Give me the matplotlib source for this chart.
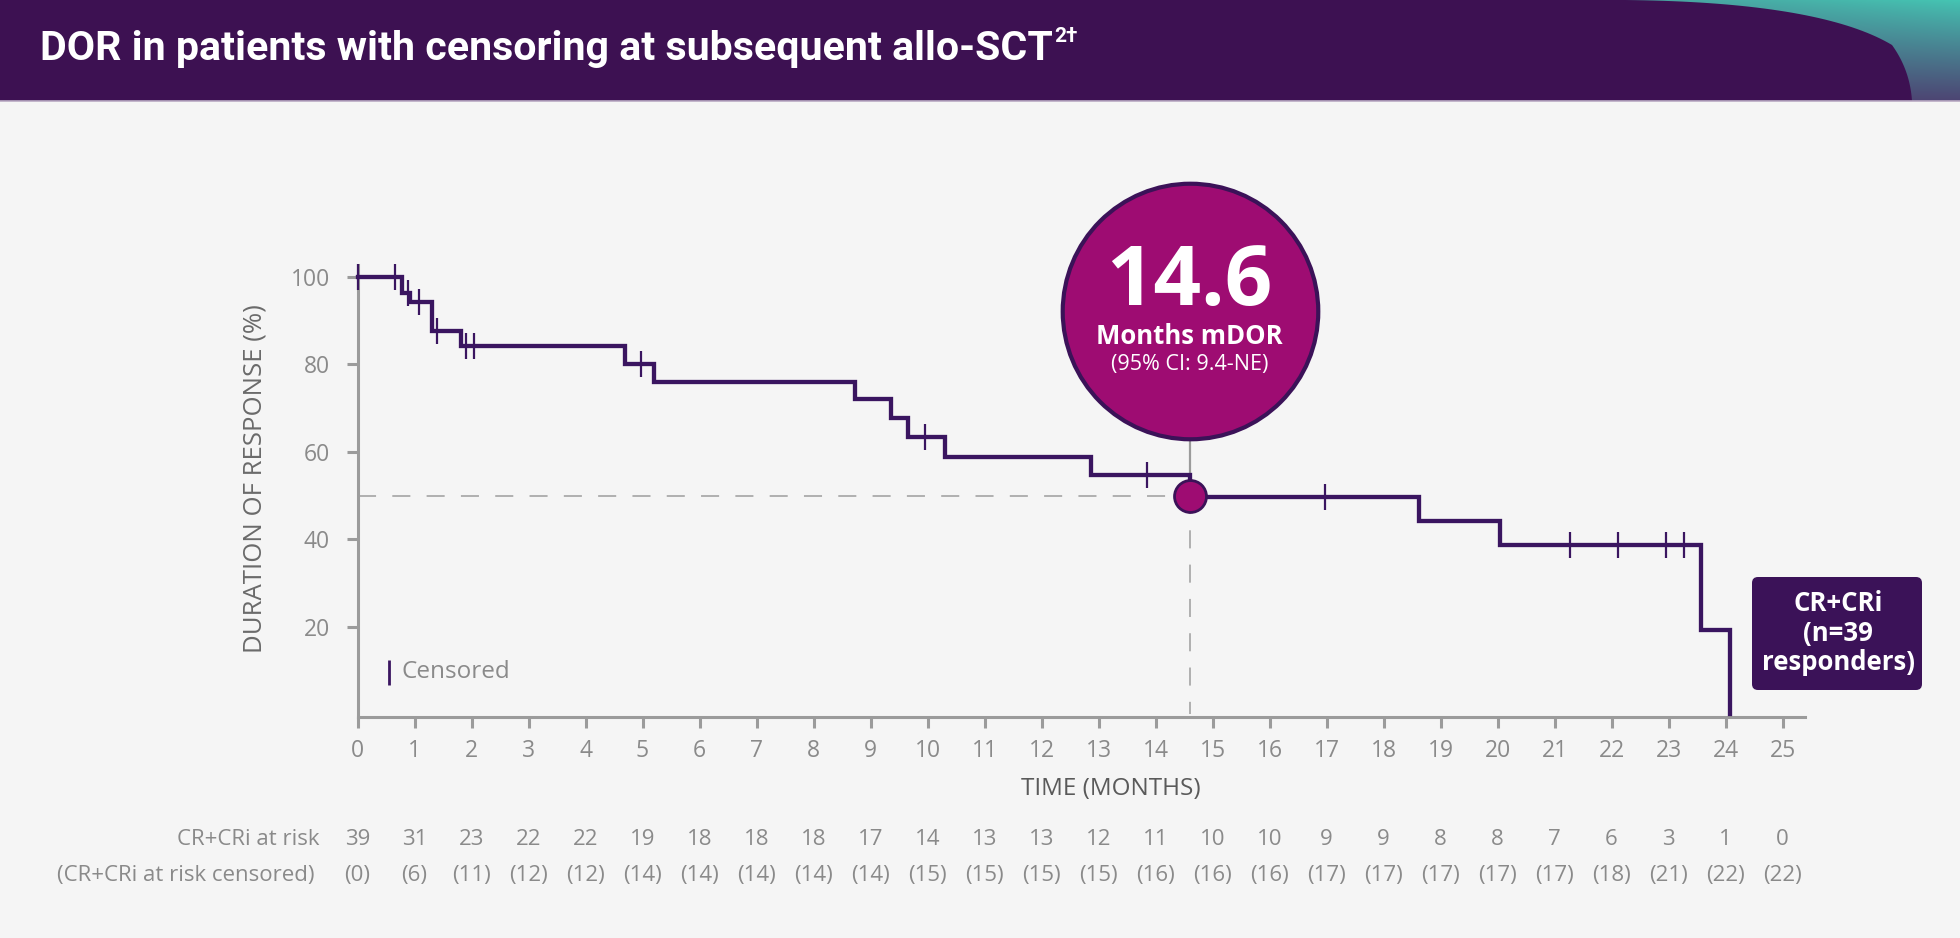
import numpy as np
import matplotlib
matplotlib.use('Agg')
import matplotlib.pyplot as plt
from matplotlib.patches import Rectangle, FancyBboxPatch, PathPatch
from matplotlib.path import Path

# ---------------- data ----------------
event_times = [0, 0.78, 0.92, 1.30, 1.82, 4.69, 5.20, 8.72, 9.36, 9.65, 10.30,
               12.86, 14.6, 18.62, 20.05, 23.57, 24.08]
survival = [100, 96.3, 94.3, 87.7, 84.3, 80.1, 75.9, 72.1, 67.8, 63.5, 58.9,
            54.7, 49.6, 44.3, 38.8, 19.3, 0]
censor_times = [0, 0.66, 0.88, 1.08, 1.39, 1.90, 2.05, 4.98, 9.96, 13.85,
                16.97, 21.27, 22.12, 22.95, 23.28]
median_dor = 14.6
median_level = 50
months = list(range(26))
at_risk = [39, 31, 23, 22, 22, 19, 18, 18, 18, 17, 14, 13, 13, 12, 11, 10, 10,
           9, 9, 8, 8, 7, 6, 3, 1, 0]
at_risk_censored = [0, 6, 11, 12, 12, 14, 14, 14, 14, 14, 15, 15, 15, 15, 16,
                    16, 16, 17, 17, 17, 17, 17, 18, 21, 22, 22]
yticks = [20, 40, 60, 80, 100]
title = "DOR in patients with censoring at subsequent allo-SCT"
title_sup = "2\u2020"

# ---------------- style ----------------
BG = '#f5f5f5'
PURPLE = '#3d1152'
CURVE = '#3a1560'
MAGENTA = '#9e0c72'
GRAY = '#9b9b9b'
TXT = '#8a8a8a'
FONT = ['Open Sans', 'DejaVu Sans']
TFONT = ['Roboto', 'DejaVu Sans']

W, H = 1960, 938
fig = plt.figure(figsize=(W / 100, H / 100), dpi=100, facecolor=BG)

# background / overlay axes in pixel coordinates (y down)
bg = fig.add_axes([0, 0, 1, 1], zorder=0)
bg.set_xlim(0, W)
bg.set_ylim(H, 0)
bg.axis('off')
bg.set_facecolor(BG)

bg.add_patch(Rectangle((0, 0), W, 101, facecolor=PURPLE, edgecolor='none'))
bg.plot([0, W], [101, 101], color='#b9aac3', lw=1.2)

# teal swoosh with gradient (smooth boundary)
def bez(p0, p1, p2, n=40):
    tt = np.linspace(0, 1, n)[:, None]
    p0, p1, p2 = map(np.array, (p0, p1, p2))
    return (1 - tt) ** 2 * p0 + 2 * (1 - tt) * tt * p1 + tt ** 2 * p2

c1 = bez((1625, 0), (1820, 2), (1892, 45))
c2 = bez((1892, 45), (1910, 70), (1912, 101))
edge = np.vstack([c1, c2[1:], [(1960, 101), (1960, 0), (1625, 0)]])
swoosh = PathPatch(Path(edge), facecolor='none', edgecolor='none')
bg.add_patch(swoosh)
ny = 101
grad = np.zeros((ny, 60, 3))
top = np.array([0.27, 0.77, 0.70])
mid = np.array([0.29, 0.62, 0.62])
bot = np.array([0.30, 0.27, 0.45])
for i in range(ny):
    f = i / (ny - 1)
    for j in range(60):
        g = j / 59
        c_top = mid * (1 - g) + top * g
        grad[i, j, :] = c_top * (1 - f ** 0.9) + bot * f ** 0.9
im = bg.imshow(grad, extent=(1620, 1960, 101, 0), aspect='auto',
               interpolation='bilinear', zorder=1)
im.set_clip_path(swoosh)

# title
t = bg.text(40, 49, title, color='white', fontsize=29.6, fontweight='bold',
            family=TFONT, va='center', ha='left')
fig.canvas.draw()
ext = t.get_window_extent()
bg.text(ext.x1 + 1, 36, title_sup, color='white', fontsize=15, fontweight='bold',
        family=TFONT, va='center', ha='left')

# CR+CRi box
bg.add_patch(FancyBboxPatch((1752, 577), 170, 113,
                            boxstyle='round,pad=0,rounding_size=6',
                            facecolor='#3b1258', edgecolor='none'))
bg.text(1838, 633, "CR+CRi\n(n=39\nresponders)", color='white', fontsize=18.5,
        fontweight='bold', family=FONT, ha='center', va='center',
        linespacing=1.12)

# ---------------- main axes ----------------
ax = fig.add_axes([357.5 / W, (H - 717) / H, 25.4 * 57 / W, 452 / H], zorder=2)
ax.set_facecolor('none')
ax.set_xlim(0, 25.4)
ax.set_ylim(-0.6, 102.7)

for s in ['top', 'right']:
    ax.spines[s].set_visible(False)
for s in ['left', 'bottom']:
    ax.spines[s].set_color(GRAY)
    ax.spines[s].set_linewidth(2.2)

ax.set_xticks(months)
ax.set_yticks(yticks)
ax.tick_params(axis='both', direction='out', length=8, width=2.2, color=GRAY,
               labelcolor=TXT, labelsize=16.5)
ax.tick_params(axis='y', pad=12)
ax.tick_params(axis='x', pad=8)
for lab in ax.get_xticklabels() + ax.get_yticklabels():
    lab.set_family(FONT)

ax.set_xlabel("TIME (MONTHS)", fontsize=17.5, color='#5a5a5a', family=FONT)
ax.xaxis.label.set_va('center')
ax.xaxis.set_label_coords(13.22 / 25.4, -72 / 452)
ax.set_ylabel("DURATION OF RESPONSE (%)", fontsize=18.5, color='#6a6a6a', family=FONT)
ax.yaxis.label.set_va('center')
ax.yaxis.set_label_coords(-103 / (25.4 * 57), (717 - 479) / 452)

# median reference lines
ax.plot([0, median_dor], [median_level, median_level], color='#aaaaaa', lw=1.3,
        dashes=(10, 9), zorder=2)
ax.plot([median_dor, median_dor], [median_level, 0], color='#aaaaaa', lw=1.3,
        dashes=(10, 9), zorder=2)

# KM curve
ax.step(event_times, survival, where='post', color=CURVE, lw=3.1, zorder=4,
        solid_joinstyle='miter', clip_on=False)

# censor marks
ev = np.array(event_times)
sv = np.array(survival)
idx = np.searchsorted(ev, np.array(censor_times), side='right') - 1
levels = sv[idx]
ax.plot(censor_times, levels, linestyle='none', marker='|', markersize=19,
        markeredgewidth=1.6, color=CURVE, zorder=5, clip_on=False)

# big circle annotation
circ_y = 92.2
ax.plot([median_dor, median_dor], [circ_y - 29, median_level + 3], color='#9b9b9b',
        lw=1.6, zorder=3)
ax.scatter([median_dor], [circ_y], s=184 ** 2, color=MAGENTA, edgecolor='#3b1258',
           linewidth=3.0, zorder=6, clip_on=False)
ax.text(median_dor, 98.4, "14.6", color='white', fontsize=60, fontweight='bold',
        family=FONT, ha='center', va='center', zorder=7)
ax.text(median_dor, 86.4, "Months mDOR", color='white', fontsize=18.5,
        fontweight='bold', family=FONT, ha='center', va='center', zorder=7)
ax.text(median_dor, 79.9, "(95% CI: 9.4-NE)", color='white', fontsize=15.5,
        family=FONT, ha='center', va='center', zorder=7)

# median point
ax.scatter([median_dor], [median_level], s=23 ** 2, color=MAGENTA,
           edgecolor='#3b1258', linewidth=2.0, zorder=6, clip_on=False)

# censored legend
ax.plot([0.55], [9.7], linestyle='none', marker='|', markersize=18,
        markeredgewidth=2.0, color=CURVE, clip_on=False)
ax.text(0.78, 9.7, "Censored", fontsize=17.5, color=TXT, family=FONT,
        ha='left', va='center')

# at-risk table
RS = 16
ax.text(-0.675, -28.7, "CR+CRi at risk", fontsize=RS, color=TXT, family=FONT,
        ha='right', va='center', clip_on=False)
ax.text(-0.746, -36.9, "(CR+CRi at risk censored)", fontsize=RS, color=TXT,
        family=FONT, ha='right', va='center', clip_on=False)
for m, n, c in zip(months, at_risk, at_risk_censored):
    ax.text(m, -28.7, str(n), fontsize=RS, color=TXT, family=FONT,
            ha='center', va='center', clip_on=False)
    ax.text(m, -36.9, "(%d)" % c, fontsize=RS, color=TXT, family=FONT,
            ha='center', va='center', clip_on=False)

fig.savefig('out.png', dpi=100, facecolor=BG)
